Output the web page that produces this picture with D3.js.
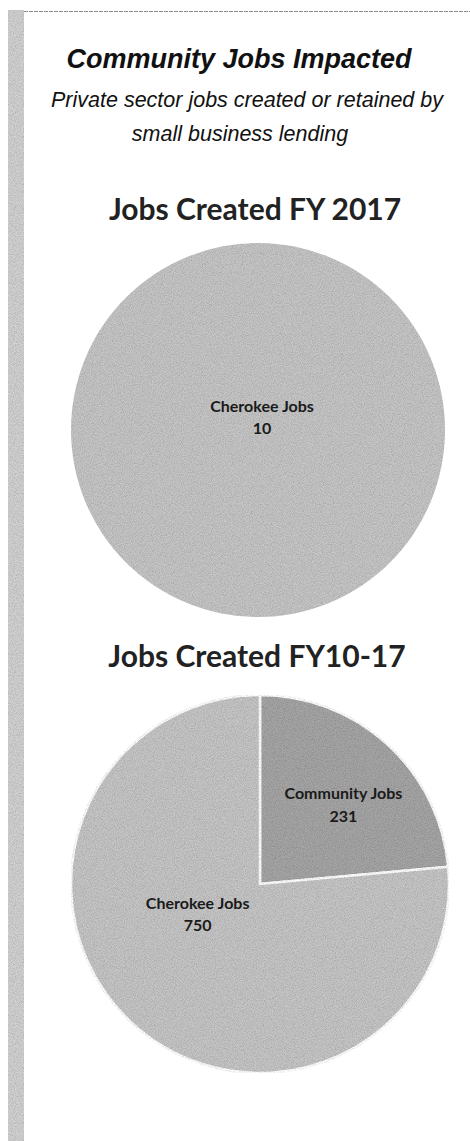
<!DOCTYPE html>
<html>
<head>
<meta charset="utf-8">
<script src="https://cdn.jsdelivr.net/npm/d3@7"></script>
<style>
  body { margin: 0; background: #fff; }
  svg { display: block; }
</style>
</head>
<body>
<script>
// data
const fy2017Labels = ["Cherokee Jobs"];
const fy2017Values = [10];
const fy1017Labels = ["Community Jobs", "Cherokee Jobs"];
const fy1017Values = [231, 750];

const width = 470, height = 1141;

const svg = d3.select("body").append("svg")
  .attr("width", width)
  .attr("height", height);

// grainy print look
const defs = svg.append("defs");
const grain = defs.append("filter").attr("id", "grain")
  .attr("x", 0).attr("y", 0).attr("width", 1).attr("height", 1);
grain.append("feTurbulence").attr("type", "fractalNoise")
  .attr("baseFrequency", 1.1).attr("numOctaves", 1).attr("seed", 3).attr("result", "noise");
grain.append("feColorMatrix").attr("in", "noise").attr("type", "matrix")
  .attr("values", "0 0 0 0 0  0 0 0 0 0  0 0 0 0 0  0 0 0 0.7 -0.25").attr("result", "dots");
grain.append("feComposite").attr("in", "dots").attr("in2", "SourceGraphic").attr("operator", "in").attr("result", "dd");
grain.append("feMerge").selectAll("feMergeNode")
  .data(["SourceGraphic", "dd"]).enter().append("feMergeNode").attr("in", d => d);

// left strip and top rule
svg.append("rect")
  .attr("x", 8).attr("y", 10).attr("width", 16).attr("height", height - 10)
  .attr("fill", "#d2d2d2").attr("filter", "url(#grain)");
svg.append("line")
  .attr("x1", 24).attr("x2", width).attr("y1", 11.5).attr("y2", 11.5)
  .attr("stroke", "#8a8a8a").attr("stroke-width", 1)
  .attr("stroke-dasharray", "4 1");

// headings
svg.append("text")
  .attr("x", 239).attr("y", 68)
  .attr("text-anchor", "middle")
  .style("font", "italic bold 27px 'Liberation Sans', Arial, sans-serif")
  .attr("fill", "#111")
  .text("Community Jobs Impacted");

const sub = svg.append("text")
  .attr("text-anchor", "middle")
  .style("font", "italic 21.5px 'Liberation Sans', Arial, sans-serif")
  .attr("fill", "#111");
sub.append("tspan").attr("x", 247).attr("y", 107).text("Private sector jobs created or retained by");
sub.append("tspan").attr("x", 240).attr("y", 141).text("small business lending");

const colors = ["#a6a6a6", "#c6c6c6"];

function drawPie(opts) {
  const { title, titleY, cx, cy, r, labels, values, fills, labelPos } = opts;

  svg.append("text")
    .attr("x", cx - 3).attr("y", titleY)
    .attr("text-anchor", "middle")
    .style("font", "bold 30px Lato, 'Open Sans', sans-serif")
    .attr("fill", "#222")
    .text(title);

  const pie = d3.pie().sort(null).value(d => d);
  const arcs = pie(values);
  const arc = d3.arc().innerRadius(0).outerRadius(r);

  const g = svg.append("g").attr("transform", `translate(${cx},${cy})`);

  g.selectAll("path")
    .data(arcs)
    .enter()
    .append("path")
    .attr("d", arc)
    .attr("fill", (d, i) => fills[i])
    .attr("stroke", values.length > 1 ? "#fff" : "none")
    .attr("stroke-width", 2.5)
    .attr("filter", "url(#grain)");

  const lab = g.selectAll("text.lab")
    .data(arcs)
    .enter()
    .append("text")
    .attr("class", "lab")
    .attr("text-anchor", "middle")
    .style("font", "bold 16px Lato, 'Open Sans', sans-serif")
    .attr("fill", "#1a1a1a")
    .attr("transform", (d, i) => {
      if (values.length === 1) return "translate(4,-16)";
      const p = labelPos[i];
      const a = (d.startAngle + d.endAngle) / 2 + p.da * Math.PI / 180;
      const rr = r * p.k;
      return `translate(${rr * Math.sin(a)},${-rr * Math.cos(a)})`;
    });
  lab.append("tspan").attr("x", 0).attr("dy", "-0.15em").text((d, i) => labels[i]);
  lab.append("tspan").attr("x", 0).attr("dy", "1.4em").text(d => d.value);
}

drawPie({
  title: "Jobs Created FY 2017", titleY: 220,
  cx: 258, cy: 430, r: 187,
  labels: fy2017Labels, values: fy2017Values,
  fills: [colors[1]], labelPos: []
});

drawPie({
  title: "Jobs Created FY10-17", titleY: 667,
  cx: 260, cy: 884, r: 189,
  labels: fy1017Labels, values: fy1017Values,
  fills: colors,
  labelPos: [{ k: 0.62, da: 3 }, { k: 0.36, da: 24 }]
});
</script>
</body>
</html>
